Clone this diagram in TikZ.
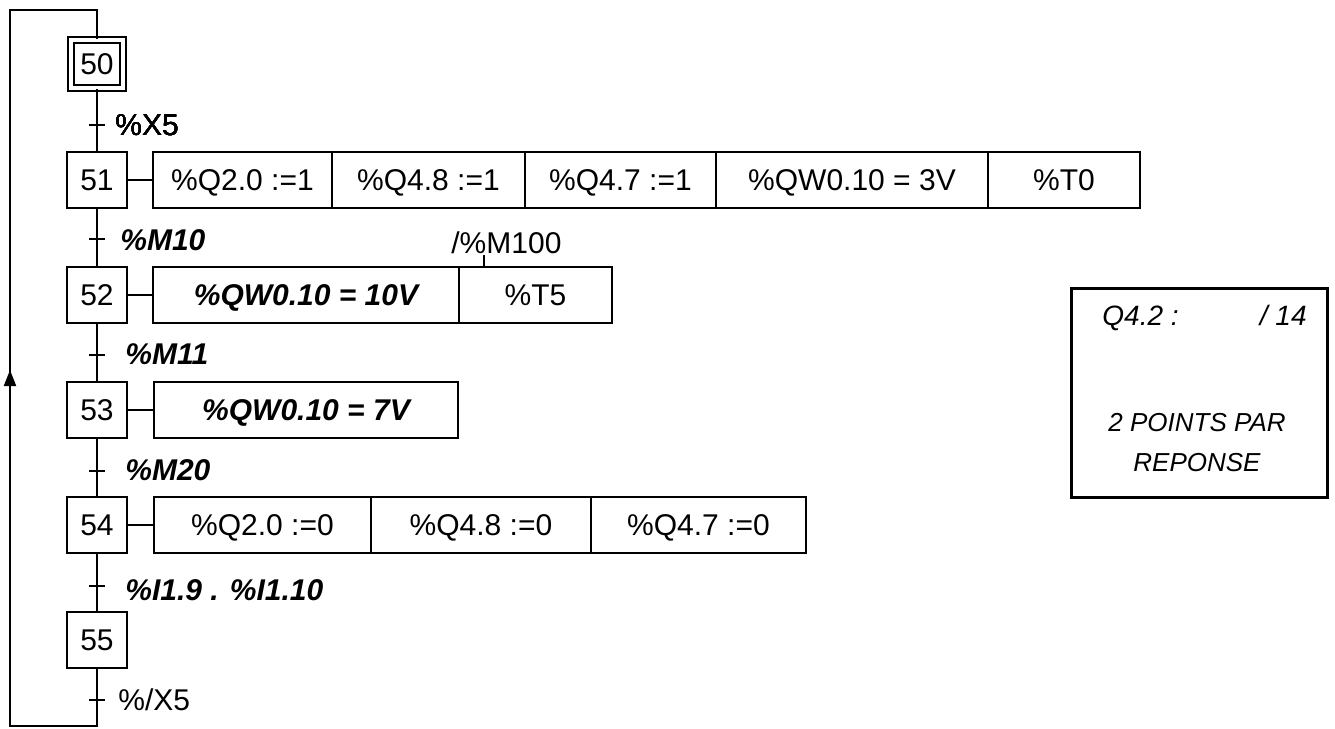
\documentclass[tikz,border=0pt]{standalone}
\usepackage{fontspec}
\setmainfont{Liberation Sans}
\usetikzlibrary{arrows.meta, positioning}
\tikzset{
  getape/.style = {draw=black, fill=white, line width=1pt, minimum width=30pt,
    minimum height=28pt, inner sep=0pt, text height=10.7pt, text depth=0pt,
    font=\fontsize{15}{18}\selectfont},
  ginit/.style = {getape, double, double distance=2pt, minimum width=26pt,
    minimum height=24pt},
  gact/.style = {draw=black, line width=1pt, minimum height=28pt, inner sep=0pt,
    outer sep=0pt, text height=10.7pt, text depth=0pt,
    font=\fontsize{15}{18}\selectfont},
  gactb/.style = {gact, font=\fontsize{15}{18}\selectfont\bfseries\itshape},
  glig/.style = {draw=black, line width=1pt},
  gtr/.style = {draw=black, line width=1pt},
  grec/.style = {anchor=west, inner sep=0pt, text height=10.7pt, text depth=0pt,
    font=\fontsize{15}{18}\selectfont},
  grecb/.style = {grec, font=\fontsize{15}{18}\selectfont\bfseries\itshape},
  gseta/.style = {-{Triangle[width=6pt, length=8pt]}, line width=1pt},
  gnote/.style = {draw=black, line width=1.5pt, minimum width=128pt,
    minimum height=104.5pt, inner sep=0pt},
  gnotet/.style = {inner sep=0pt, text height=10pt, text depth=0pt,
    font=\fontsize{14}{17}\selectfont\itshape},
  gnotep/.style = {gnotet, text height=9.3pt, font=\fontsize{13}{16}\selectfont\itshape}
}
\newcommand{\gtick}[1]{\draw [gtr] ([xshift=-4pt]#1) -- ([xshift=4pt]#1);}

\begin{document}
\begin{tikzpicture}[x=0.5pt, y=-0.5pt]
  \useasboundingbox (0,0) rectangle (1335,729);
  % etapes
  \node [ginit] (e50) at (97,64) {50};
  \node [getape] (e51) at (97,180) {51};
  \node [getape] (e52) at (97,295) {52};
  \node [getape] (e53) at (97,410) {53};
  \node [getape] (e54) at (97,525) {54};
  \node [getape] (e55) at (97,640) {55};
  \foreach \a/\b in {e50/e51, e51/e52, e52/e53, e53/e54, e54/e55}
    \draw [glig] (\a.south) -- (\b.north);
  % bouclage
  \coordinate (bas) at (97,726);
  \coordinate (basg) at (10,726);
  \coordinate (fl) at (10,370);
  \coordinate (hautg) at (10,10);
  \coordinate (haut) at (97,10);
  \draw [glig] (e55.south) -- (bas) -- (basg) -- (hautg) -- (haut) -- (e50.north);
  \draw [gseta] (basg) -- (fl);
  % transitions
  \coordinate (t1) at (97,125);
  \coordinate (t2) at (97,239);
  \coordinate (t3) at (97,355);
  \coordinate (t4) at (97,471);
  \coordinate (t5) at (97,586);
  \coordinate (t6) at (97,700);
  \foreach \t in {t1, t2, t3, t4, t5, t6} \gtick{\t}
  \node [grec] (r1) at (115,125) {\%X5};
  \node [grecb] (r2) at (120,240) {\%M10};
  \node [grecb] (r3) at (125,354) {\%M11};
  \node [grecb] (r4) at (125,470) {\%M20};
  \node [grecb] (r5) at (125,590) {\%I1.9 . \%I1.10};
  \node [grec] (r6) at (118,700) {\%/X5};
  % actions
  \node [gact, minimum width=89.5pt, anchor=west] (a51a) at (153,180) {\%Q2.0 :=1};
  \node [gact, minimum width=96.5pt, right=0pt of a51a] (a51b) {\%Q4.8 :=1};
  \node [gact, minimum width=95.5pt, right=0pt of a51b] (a51c) {\%Q4.7 :=1};
  \node [gact, minimum width=136pt, right=0pt of a51c] (a51d) {\%QW0.10 = 3V};
  \node [gact, minimum width=76pt, right=0pt of a51d] (a51e) {\%T0};
  \node [gactb, minimum width=153pt, anchor=west] (a52a) at (153,295) {\%QW0.10 = 10V};
  \node [gact, minimum width=76.5pt, right=0pt of a52a] (a52b) {\%T5};
  \node [gactb, minimum width=152pt, anchor=west] (a53a) at (154,410) {\%QW0.10 = 7V};
  \node [gact, minimum width=108.5pt, anchor=west] (a54a) at (154,525) {\%Q2.0 :=0};
  \node [gact, minimum width=110pt, right=0pt of a54a] (a54b) {\%Q4.8 :=0};
  \node [gact, minimum width=107.5pt, right=0pt of a54b] (a54c) {\%Q4.7 :=0};
  \foreach \e/\a in {e51/a51a, e52/a52a, e53/a53a, e54/a54a}
    \draw [glig] (\e) -- (\a);
  % condition de la tempo
  \node [grec] (m100) at (451,243) {/\%M100};
  \coordinate (c100) at (484,255);
  \draw [glig] (c100) -- (c100 |- a52b.north);
  % bareme
  \node [gnote] (note) at (1199,393) {};
  \node [gnotet, anchor=west] (q42) at (1102,315) {Q4.2 :};
  \node [gnotet, anchor=east] (sur) at (1307,315) {/ 14};
  \node [gnotep] (pts) at (1197,422) {2 POINTS PAR};
  \node [gnotep] (rep) at (1197,462) {REPONSE};
\end{tikzpicture}
\end{document}
